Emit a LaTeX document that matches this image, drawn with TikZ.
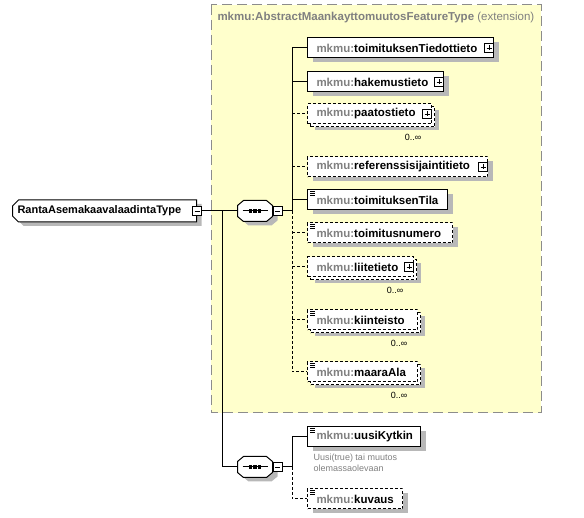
\documentclass[tikz,border=0pt]{standalone}
\usepackage{fontspec}
\setmainfont{Liberation Sans}
\usetikzlibrary{shapes.misc,shadows}
\definecolor{extfill}{HTML}{FFFFCC}
\definecolor{pregray}{HTML}{808080}
\newcommand{\mkmu}{\textcolor{pregray}{mkmu:}}

\begin{document}
\begin{tikzpicture}[x=1pt, y=-1pt, line width=1pt,
    font=\fontsize{11.5}{13}\selectfont\bfseries]
  \tikzstyle{box}=[draw, fill=white, anchor=west, minimum height=20pt, inner xsep=9pt, inner ysep=0pt, align=left]
  \tikzstyle{one}=[box, drop shadow={shadow xshift=5pt, shadow yshift=-4pt, fill=black!28, opacity=1}]
  \tikzstyle{opt}=[one, dash pattern=on 3pt off 2pt]
  \tikzstyle{many}=[box, dash pattern=on 3pt off 2pt,
    general shadow={fill=black!28, shadow xshift=7pt, shadow yshift=-6pt},
    general shadow={draw, fill=white, dash pattern=on 3pt off 2pt, shadow xshift=3pt, shadow yshift=-3pt}]
  \tikzstyle{seq}=[rectangle, minimum width=34pt, minimum height=20pt, inner sep=0pt]
  \tikzstyle{seqface}=[draw, fill=white, preaction={fill=black!28, transform canvas={xshift=5pt, yshift=-4pt}}]
  \tikzstyle{pmbox}=[draw, fill=white, minimum size=9pt, inner sep=0pt, line width=0.7pt]
  \tikzstyle{minus}=[pmbox, path picture={\draw ([xshift=2pt]path picture bounding box.west) -- ([xshift=-2pt]path picture bounding box.east);}]
  \tikzstyle{plus}=[pmbox, path picture={\draw ([xshift=2pt]path picture bounding box.west) -- ([xshift=-2pt]path picture bounding box.east); \draw ([yshift=-2pt]path picture bounding box.north) -- ([yshift=2pt]path picture bounding box.south);}]
  \tikzstyle{occ}=[font=\fontsize{9}{11}\selectfont, inner sep=0pt]
  \tikzstyle{annot}=[font=\fontsize{9}{11.5}\selectfont, text=pregray, align=left, inner sep=0pt, anchor=north west]

  \useasboundingbox (0,0) rectangle (584,518);

  % extension area
  \draw[draw=black!45, dash pattern=on 10pt off 5pt, fill=extfill] (211,5) rectangle (541,413);
  \node[anchor=west, inner sep=0pt, text=pregray] (title) at (217,18) {mkmu:AbstractMaankayttomuutosFeatureType {\mdseries(extension)}};

  % type and sequences
  \node[one, chamfered rectangle, chamfered rectangle corners={north west,south west}, chamfered rectangle xsep=3pt, chamfered rectangle ysep=3pt, minimum width=184pt, minimum height=22pt, inner xsep=2pt, text width=174pt, font=\fontsize{11}{13}\selectfont\bfseries] (type) at (12,211) {RantaAsemakaavalaadintaType};
  \node[minus] (typepm) at (type.east) {};

  \node[seq] (seq1) at (255,211) {};
  \node[seq] (seq2) at (255,467) {};
  \foreach \s in {seq1,seq2} {
    \path[seqface] ([xshift=6pt]\s.north west) -- ([xshift=-6pt]\s.north east)
      -- ([yshift=-5pt]\s.north east) -- ([yshift=5pt]\s.south east)
      -- ([xshift=-6pt]\s.south east) -- ([xshift=6pt]\s.south west)
      -- ([yshift=5pt]\s.south west) -- ([yshift=-5pt]\s.north west) -- cycle;
    \draw ([xshift=5pt]\s.west) -- ([xshift=-5pt]\s.east);
    \foreach \dx in {-4.5,0,4.5}
      \fill ([shift={(\dx-1.6,-1.6)}]\s.center) rectangle +(3.2,3.2);
  }
  \node[minus, anchor=west] (seq1pm) at (seq1.east) {};
  \node[minus, anchor=west] (seq2pm) at (seq2.east) {};

  % elements of the extension
  \node[one, text width=168pt] (tiedot) at (307,48) {\mkmu toimituksenTiedottieto};
  \node[one, text width=118pt] (hakemus) at (307,82) {\mkmu hakemustieto};
  \node[many, text width=106pt] (paatos) at (307,114) {\mkmu paatostieto};
  \node[opt, text width=162pt] (referenssi) at (307,167) {\mkmu referenssisijaintitieto};
  \node[one, text width=122pt] (tila) at (307,200) {\mkmu toimituksenTila};
  \node[opt, text width=127pt] (numero) at (307,233) {\mkmu toimitusnumero};
  \node[many, text width=88pt] (liite) at (307,267) {\mkmu liitetieto};
  \node[many, text width=92pt] (kiinteisto) at (307,320) {\mkmu kiinteisto};
  \node[many, text width=92pt] (maaraala) at (307,372) {\mkmu maaraAla};

  % elements of the second sequence
  \node[one, text width=95pt] (uusi) at (307,437) {\mkmu uusiKytkin};
  \node[annot] (uusinote) at (313,453) {Uusi(true) tai muutos\\olemassaolevaan};
  \node[opt, text width=77pt] (kuvaus) at (307,499) {\mkmu kuvaus};

  \foreach \n in {tiedot,hakemus,paatos,referenssi,liite}
    \node[plus, anchor=east] (\n pm) at (\n.east) {};

  \foreach \n in {tila,numero,kiinteisto,maaraala,uusi,kuvaus}
    \foreach \dy in {2,3.7,5.4}
      \draw[line width=0.6pt] ([shift={(3,\dy)}]\n.north west) -- ++(4.5,0);

  \foreach \n in {paatos,liite,kiinteisto,maaraala}
    \node[occ] (\n occ) at ([shift={(-19,13)}]\n.south east) {0..∞};

  % connectors
  \coordinate (j1) at (222,211);
  \coordinate (b1) at (292,211);
  \coordinate (b2) at (292,467);
  \draw (typepm.east) -- (seq1.west);
  \draw (j1) |- (seq2.west);
  \draw (seq1pm.east) -- (b1);
  \draw (b1) |- (tiedot.west);
  \foreach \n in {hakemus,tila}
    \draw (b1 |- \n.west) -- (\n.west);
  \draw[dash pattern=on 3pt off 2pt] (b1) |- (maaraala.west);
  \foreach \n in {paatos,referenssi,numero,liite,kiinteisto}
    \draw[dash pattern=on 3pt off 2pt] (b1 |- \n.west) -- (\n.west);
  \draw (seq2pm.east) -- (b2);
  \draw (b2) |- (uusi.west);
  \draw[dash pattern=on 3pt off 2pt] (b2) |- (kuvaus.west);
\end{tikzpicture}
\end{document}
